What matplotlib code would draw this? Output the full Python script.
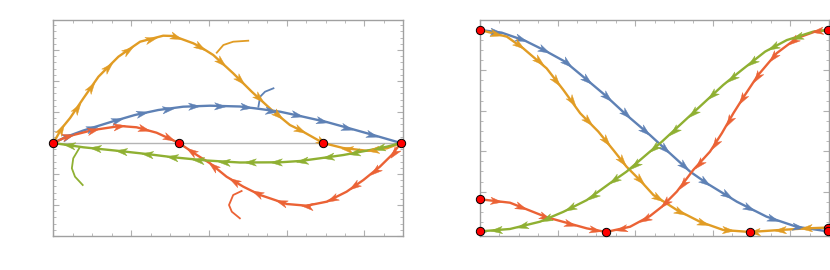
# two phase-portrait style panels with arrowheads along the curves
import numpy as np
import matplotlib
matplotlib.use("Agg")
import matplotlib.pyplot as plt
from matplotlib.path import Path
from matplotlib.markers import MarkerStyle
from matplotlib.transforms import Affine2D
from matplotlib.ticker import MultipleLocator

BLUE = "#5e81b5"
ORANGE = "#e19c24"
GREEN = "#8fb032"
RED = "#eb6235"

# ---- left panel data ----
l_blue_x = [0, 0.038, 0.086, 0.167, 0.233, 0.3, 0.371, 0.448, 0.533, 0.576, 0.648, 0.705, 0.781, 0.848, 0.914, 0.993]
l_blue_y = [0, 0.063, 0.125, 0.213, 0.28, 0.33, 0.363, 0.373, 0.365, 0.347, 0.313, 0.27, 0.21, 0.145, 0.08, 0]

l_orange_x = [0, 0.024, 0.048, 0.086, 0.129, 0.186, 0.248, 0.314, 0.343, 0.4, 0.419, 0.457, 0.514, 0.567,
              0.624, 0.676, 0.705, 0.771, 0.828, 0.895, 0.953, 0.993]
l_orange_y = [0, 0.147, 0.25, 0.447, 0.663, 0.863, 1.013, 1.073, 1.07, 0.997, 0.963, 0.88, 0.697, 0.513,
              0.33, 0.18, 0.13, 0, -0.05, -0.077, -0.053, 0]

l_red_x = [0, 0.038, 0.114, 0.191, 0.238, 0.295, 0.359, 0.41, 0.448, 0.495, 0.543, 0.591, 0.667, 0.724,
           0.781, 0.838, 0.886, 0.933, 0.967, 0.993]
l_red_y = [0, 0.063, 0.13, 0.17, 0.157, 0.103, 0, -0.12, -0.203, -0.337, -0.437, -0.52, -0.61, -0.627,
           -0.587, -0.487, -0.37, -0.237, -0.12, 0]

l_green_x = [0, 0.086, 0.181, 0.267, 0.343, 0.438, 0.533, 0.648, 0.705, 0.762, 0.829, 0.895, 0.953, 0.993]
l_green_y = [0, -0.043, -0.077, -0.11, -0.143, -0.175, -0.195, -0.193, -0.18, -0.153, -0.12, -0.077, -0.037, 0]

l_dots_x = [0, 0.359, 0.771, 0.993]
l_dots_y = [0, 0, 0, 0]

# short leader strokes
lead_orange = ([0.467, 0.486, 0.514, 0.557], [0.903, 0.98, 1.013, 1.023])
lead_blue = ([0.586, 0.591, 0.605, 0.629], [0.363, 0.463, 0.513, 0.547])
lead_green = ([0.074, 0.057, 0.053, 0.062, 0.084], [-0.053, -0.153, -0.253, -0.337, -0.42])
lead_red = ([0.538, 0.514, 0.502, 0.51, 0.533], [-0.48, -0.52, -0.62, -0.687, -0.753])

# ---- right panel data ----
r_blue_x = [0, 0.062, 0.129, 0.186, 0.244, 0.301, 0.358, 0.42, 0.487, 0.544, 0.602, 0.65, 0.736, 0.821, 0.907, 0.997]
r_blue_y = [1.0, 0.987, 0.947, 0.898, 0.843, 0.761, 0.678, 0.579, 0.48, 0.39, 0.299, 0.241, 0.15, 0.076, 0.026, 0.003]

r_orange_x = [0, 0.077, 0.124, 0.191, 0.239, 0.287, 0.339, 0.382, 0.42, 0.458, 0.497, 0.564, 0.63, 0.697,
              0.774, 0.86, 0.936, 0.997]
r_orange_y = [1.0, 0.967, 0.909, 0.81, 0.703, 0.588, 0.497, 0.406, 0.323, 0.257, 0.183, 0.109, 0.051, 0.01,
              0, 0.01, 0.018, 0.022]

r_green_x = [0, 0.086, 0.172, 0.239, 0.306, 0.372, 0.42, 0.487, 0.521, 0.573, 0.635, 0.697, 0.75, 0.817,
             0.879, 0.955, 0.997]
r_green_y = [0.003, 0.015, 0.051, 0.1, 0.158, 0.241, 0.299, 0.398, 0.447, 0.53, 0.629, 0.728, 0.802, 0.893,
             0.95, 0.992, 1.0]

r_red_x = [0, 0.086, 0.191, 0.306, 0.361, 0.43, 0.487, 0.521, 0.564, 0.611, 0.659, 0.693, 0.726, 0.759,
           0.797, 0.85, 0.907, 0.96, 0.997]
r_red_y = [0.162, 0.145, 0.073, 0.018, 0, 0.026, 0.079, 0.125, 0.2, 0.307, 0.398, 0.489, 0.588, 0.678,
           0.777, 0.885, 0.959, 0.992, 1.0]

r_dots_x = [0, 0, 0, 0.361, 0.774, 0.997, 0.997, 0.997]
r_dots_y = [1.0, 0.162, 0.003, 0, 0, 1.0, 0.022, 0.003]

# arrowhead shape (notched, like the original)
head = Path([(1, 0), (-1, 0.62), (-0.45, 0), (-1, -0.62), (1, 0)],
            [Path.MOVETO, Path.LINETO, Path.LINETO, Path.LINETO, Path.CLOSEPOLY])


def add_arrows(ax, xs, ys, color, flip, step=26, start=16):
    pts = ax.transData.transform(np.column_stack([xs, ys]))
    seg = np.diff(pts, axis=0)
    seglen = np.hypot(seg[:, 0], seg[:, 1])
    cum = np.concatenate([[0], np.cumsum(seglen)])
    inv = ax.transData.inverted()
    s = start
    while s < cum[-1] - 8:
        i = int(np.searchsorted(cum, s)) - 1
        i = max(0, min(i, len(seg) - 1))
        t = (s - cum[i]) / seglen[i]
        p = pts[i] + t * seg[i]
        ang = np.degrees(np.arctan2(seg[i, 1], seg[i, 0]))
        xd, yd = inv.transform(p)
        if xd > flip:
            ang += 180
        m = MarkerStyle(head, transform=Affine2D().rotate_deg(ang))
        ax.plot(xd, yd, marker=m, ms=8.5, color=color, mec=color, mew=0.3, ls="none", zorder=3)
        s += step


def draw_curve(ax, xs, ys, color, flip):
    ax.plot(xs, ys, color=color, lw=1.7, zorder=2, solid_capstyle="round")
    add_arrows(ax, xs, ys, color, flip)


def style_axes(ax, ymajor, yminor):
    for sp in ax.spines.values():
        sp.set_color("#a0a0a0")
        sp.set_linewidth(1.0)
    ax.xaxis.set_major_locator(MultipleLocator(4 / 18))
    ax.xaxis.set_minor_locator(MultipleLocator(1 / 18))
    ax.yaxis.set_major_locator(MultipleLocator(ymajor))
    ax.yaxis.set_minor_locator(MultipleLocator(yminor))
    ax.tick_params(which="both", direction="in", top=True, right=True, color="#b0b0b0",
                   labelbottom=False, labelleft=False)
    ax.tick_params(which="major", length=4, width=0.8)
    ax.tick_params(which="minor", length=2, width=0.6)


fig = plt.figure(figsize=(8.3, 2.7), dpi=100)
ax1 = fig.add_axes([53.3 / 830, 34 / 270, 350 / 830, 216.3 / 270])
ax2 = fig.add_axes([480 / 830, 34 / 270, 349 / 830, 216 / 270])

ax1.set_xlim(0, 1.0)
ax1.set_ylim(-0.93, 1.233)
ax2.set_xlim(0, 1.0)
ax2.set_ylim(-0.0198, 1.0495)
style_axes(ax1, 0.31, 0.062)
style_axes(ax2, 0.2, 0.05)

ax1.axhline(0, color="#b4b4b4", lw=1.0, zorder=1)

draw_curve(ax1, l_blue_x, l_blue_y, BLUE, 9)
draw_curve(ax1, l_orange_x, l_orange_y, ORANGE, 0.771)
draw_curve(ax1, l_red_x, l_red_y, RED, 0.359)
draw_curve(ax1, l_green_x, l_green_y, GREEN, -1)

for (lx, ly), c in [(lead_orange, ORANGE), (lead_blue, BLUE), (lead_green, GREEN), (lead_red, RED)]:
    ax1.plot(lx, ly, color=c, lw=1.3, zorder=2)

ax1.plot(l_dots_x, l_dots_y, "o", ms=6, mfc="#ff0000", mec="black", mew=0.7, ls="none",
         zorder=5, clip_on=False)

draw_curve(ax2, r_blue_x, r_blue_y, BLUE, 9)
draw_curve(ax2, r_orange_x, r_orange_y, ORANGE, 0.774)
draw_curve(ax2, r_red_x, r_red_y, RED, 0.361)
draw_curve(ax2, r_green_x, r_green_y, GREEN, -1)

ax2.plot(r_dots_x, r_dots_y, "o", ms=6, mfc="#ff0000", mec="black", mew=0.7, ls="none",
         zorder=5, clip_on=False)

fig.savefig("out.png", dpi=100)
